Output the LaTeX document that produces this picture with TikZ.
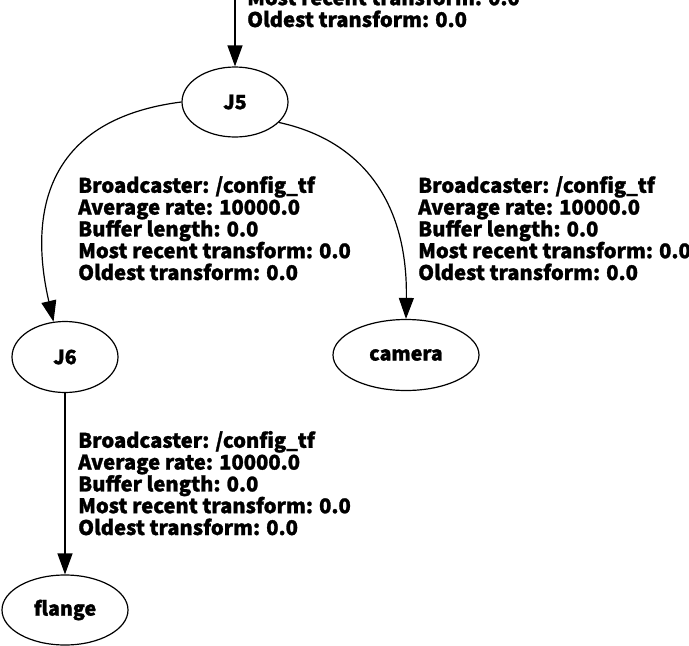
\documentclass[tikz,border=0pt]{standalone}
\usepackage{fontspec}
\setmainfont{Noto Sans CJK JP}[BoldFeatures={FakeBold=1.3}]
\usetikzlibrary{shapes.geometric,arrows.meta}

\begin{document}
\begin{tikzpicture}[x=1pt,y=-1pt,
  frame/.style={ellipse,draw,line width=1.2pt,inner sep=0pt},
  tfedge/.style={line width=1.2pt,-{Triangle[length=21pt,width=15pt]}},
  info/.style={anchor=base west,align=left,inner sep=0pt,font=\bfseries\fontsize{20.2}{21.8}\selectfont},
  every node/.style={font=\bfseries\fontsize{19.6}{21.8}\selectfont}]
  \useasboundingbox (0,0) rectangle (689,646);
  \node[frame,minimum width=106pt,minimum height=70pt] (J5) at (235,102) {J5};
  \node[frame,minimum width=106pt,minimum height=71pt] (J6) at (65,357) {J6};
  \node[frame,minimum width=146pt,minimum height=71pt] (camera) at (406,355) {camera};
  \node[frame,minimum width=126pt,minimum height=70pt] (flange) at (65,610) {flange};
  \coordinate (world) at (235,-40);
  \draw[tfedge] (world) -- (J5);
  \draw[tfedge] (J5.west) .. controls (40,120) and (30,220) .. (J6.108);
  \draw[tfedge] (J5.-25) .. controls (360,140) and (408,200) .. (camera.north);
  \draw[tfedge] (J6) -- (flange);
  \node[info] (l_J5) at (247,27) {Broadcaster: /config\_tf\\Average rate: 10000.0\\Buffer length: 0.0\\Most recent transform: 0.0\\Oldest transform: 0.0};
  \node[info] (l_J6) at (78,280) {Broadcaster: /config\_tf\\Average rate: 10000.0\\Buffer length: 0.0\\Most recent transform: 0.0\\Oldest transform: 0.0};
  \node[info] (l_camera) at (418,280) {Broadcaster: /config\_tf\\Average rate: 10000.0\\Buffer length: 0.0\\Most recent transform: 0.0\\Oldest transform: 0.0};
  \node[info] (l_flange) at (78,535) {Broadcaster: /config\_tf\\Average rate: 10000.0\\Buffer length: 0.0\\Most recent transform: 0.0\\Oldest transform: 0.0};
\end{tikzpicture}
\end{document}
